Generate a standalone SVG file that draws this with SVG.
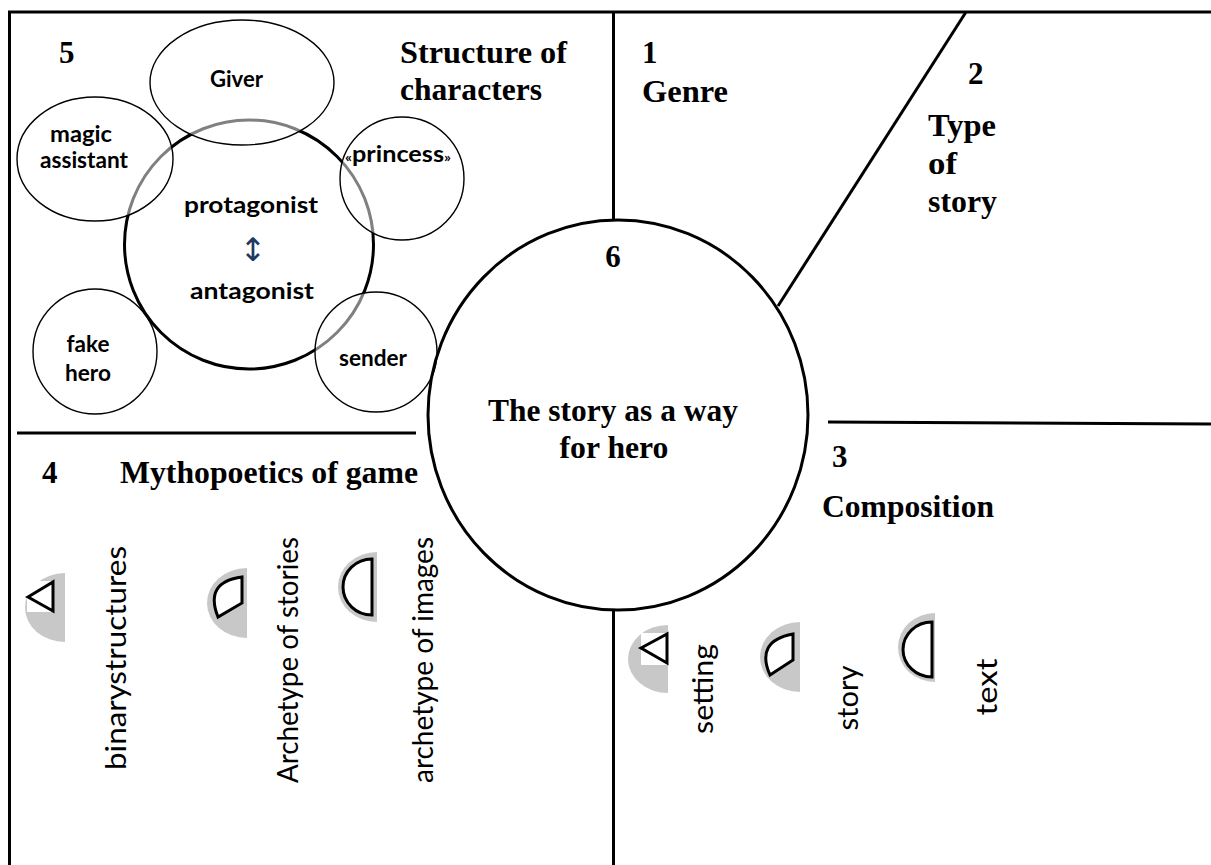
<svg xmlns="http://www.w3.org/2000/svg" width="1211" height="865" viewBox="0 0 1211 865">
<style>
.ln{stroke:#000;stroke-width:3;fill:none}
.el{stroke:#000;stroke-width:1.4;fill:#fff;fill-opacity:0.5}
.elw{stroke:#000;stroke-width:1.4;fill:none}
.ser{font-family:"Liberation Serif","Times New Roman",serif;font-weight:bold;font-size:31px;fill:#000}
.sb{font-family:Lato,"Liberation Sans",sans-serif;font-weight:bold;font-size:23px;fill:#000;text-anchor:middle}
.vt{font-family:Lato,"Liberation Sans",sans-serif;font-size:28px;fill:#000;text-anchor:middle}
.gr{fill:#c8c8c8}
.ic{fill:#fff;stroke:#000;stroke-width:3;stroke-linejoin:miter}
</style>
<rect width="1211" height="865" fill="#fff"/>
<g id="connectors">
<line class="ln" x1="8" y1="12" x2="1211" y2="12"/>
<line class="ln" x1="9.5" y1="11" x2="9.5" y2="865"/>
<line class="ln" x1="613.5" y1="12" x2="613.5" y2="221"/>
<line class="ln" x1="613.5" y1="609" x2="613.5" y2="865"/>
<line class="ln" x1="966" y1="12" x2="778" y2="306"/>
<line class="ln" x1="828" y1="422" x2="1211" y2="424"/>
<line class="ln" x1="17" y1="433" x2="416" y2="433"/>
</g>
<g id="section-5">
<text class="ser" x="59" y="63">5</text>
<text class="ser" x="400" y="63" textLength="167" lengthAdjust="spacingAndGlyphs">Structure of</text>
<text class="ser" x="400" y="100" textLength="142" lengthAdjust="spacingAndGlyphs">characters</text>
</g>
<g id="node-hero-circle">
<circle cx="249" cy="244.5" r="124.5" stroke="#000" stroke-width="3" fill="none"/>
<text class="sb" x="251" y="213" textLength="134" lengthAdjust="spacingAndGlyphs">protagonist</text>
<text x="253" y="261" font-family="'DejaVu Sans',sans-serif" font-size="32" fill="#1f3a60" text-anchor="middle">↕</text>
<text class="sb" x="252" y="299" textLength="124" lengthAdjust="spacingAndGlyphs">antagonist</text>
</g>
<g id="node-giver">
<ellipse class="el" cx="242" cy="82.5" rx="92" ry="62.5"/>
<text class="sb" x="236.5" y="87" textLength="53" lengthAdjust="spacingAndGlyphs">Giver</text>
</g>
<g id="node-magic-assistant">
<ellipse class="el" cx="95" cy="159" rx="78" ry="62"/>
<text class="sb" x="81" y="142" textLength="62" lengthAdjust="spacingAndGlyphs">magic</text>
<text class="sb" x="84" y="168" textLength="88" lengthAdjust="spacingAndGlyphs">assistant</text>
</g>
<g id="node-princess">
<ellipse class="el" cx="402" cy="178.5" rx="62" ry="61.5"/>
<text class="sb" x="398" y="162" textLength="106" lengthAdjust="spacingAndGlyphs"><tspan font-size="14">«</tspan>princess<tspan font-size="14">»</tspan></text>
</g>
<g id="node-sender">
<ellipse class="el" cx="376" cy="352" rx="61" ry="60"/>
<text class="sb" x="373" y="366" textLength="68" lengthAdjust="spacingAndGlyphs">sender</text>
</g>
<g id="node-fake-hero">
<ellipse class="elw" cx="95" cy="351.5" rx="62" ry="62.5"/>
<text class="sb" x="88" y="352" textLength="43" lengthAdjust="spacingAndGlyphs">fake</text>
<text class="sb" x="88" y="381" textLength="46" lengthAdjust="spacingAndGlyphs">hero</text>
</g>
<g id="node-story">
<ellipse cx="618" cy="415" rx="190" ry="195" stroke="#000" stroke-width="3" fill="none"/>
<text class="ser" x="613" y="267" text-anchor="middle">6</text>
<text class="ser" x="613" y="421" text-anchor="middle" textLength="250" lengthAdjust="spacingAndGlyphs">The story as a way</text>
<text class="ser" x="614" y="458" text-anchor="middle" textLength="109" lengthAdjust="spacingAndGlyphs">for hero</text>
</g>
<g id="section-1">
<text class="ser" x="642" y="63">1</text>
<text class="ser" x="642" y="102" textLength="86" lengthAdjust="spacingAndGlyphs">Genre</text>
</g>
<g id="section-2">
<text class="ser" x="968" y="84">2</text>
<text class="ser" x="928" y="136" textLength="68" lengthAdjust="spacingAndGlyphs">Type</text>
<text class="ser" x="928" y="174" textLength="29" lengthAdjust="spacingAndGlyphs">of</text>
<text class="ser" x="928" y="212" textLength="69" lengthAdjust="spacingAndGlyphs">story</text>
</g>
<g id="section-3">
<text class="ser" x="832" y="467">3</text>
<text class="ser" x="822" y="517" textLength="172" lengthAdjust="spacingAndGlyphs">Composition</text>
<path class="gr" d="M668,625 A40,34 0 0 0 668,693 Z"/>
<rect x="641" y="633" width="26" height="32" fill="#fff"/>
<path class="ic" d="M641,648 L667,634 L667,663 Z"/>
<text class="vt" transform="translate(713,689) rotate(-90)" textLength="90" lengthAdjust="spacingAndGlyphs">setting</text>
<path class="gr" d="M800,622 A40,35 0 0 0 800,692 Z"/>
<path class="ic" d="M793,634 L793,660 L770,675 Q755,641 793,634 Z"/>
<text class="vt" transform="translate(858,698) rotate(-90)" textLength="65" lengthAdjust="spacingAndGlyphs">story</text>
<path class="gr" d="M935,613 A37,34.5 0 0 0 935,682 Z"/>
<path class="ic" d="M932,622 A29,27.5 0 0 0 932,677 Z"/>
<text class="vt" transform="translate(997,687) rotate(-90)" font-size="31" textLength="57" lengthAdjust="spacingAndGlyphs">text</text>
</g>
<g id="section-4">
<text class="ser" x="42" y="483">4</text>
<text class="ser" x="120" y="483" textLength="298" lengthAdjust="spacingAndGlyphs">Mythopoetics of game</text>
<path class="gr" d="M65,573 A40,34.5 0 0 0 65,642 Z"/>
<rect x="27" y="581" width="26" height="31" fill="#fff"/>
<path class="ic" d="M28,597 L53,582 L53,611 Z"/>
<text class="vt" transform="translate(126,658) rotate(-90)" font-size="32" textLength="224" lengthAdjust="spacingAndGlyphs" word-spacing="-7">binary structures</text>
<path class="gr" d="M247,568 A40,35 0 0 0 247,638 Z"/>
<path class="ic" d="M242,577 L242,603 L218,617 Q204,582 242,577 Z"/>
<text class="vt" transform="translate(298,660) rotate(-90)" textLength="246" lengthAdjust="spacingAndGlyphs">Archetype of stories</text>
<path class="gr" d="M377,552 A39,35 0 0 0 377,622 Z"/>
<path class="ic" d="M372,559 A29,28 0 0 0 372,615 Z"/>
<text class="vt" transform="translate(433,660) rotate(-90)" textLength="246" lengthAdjust="spacingAndGlyphs">archetype of images</text>
</g>
</svg>
